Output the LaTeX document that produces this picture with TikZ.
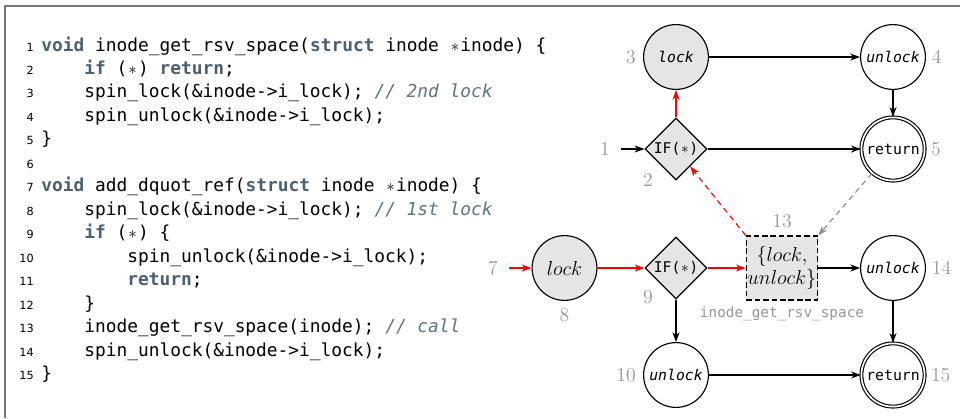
\documentclass[tikz,border=0pt]{standalone}
\usepackage{amsmath}
\usepackage{fontspec}
\usepackage{xcolor}
\usepackage{tikz}
\usetikzlibrary{positioning, shapes.geometric, arrows.meta}

\newfontfamily\codefont{DejaVu Sans Mono}
\newfontfamily\numfont{DejaVu Sans}

\definecolor{kwcol}{RGB}{75,95,110}
\definecolor{cmtcol}{RGB}{95,115,130}
\definecolor{lblgray}{RGB}{150,150,150}
\definecolor{edggray}{RGB}{140,140,140}
\definecolor{framegray}{RGB}{120,120,120}

\newcommand{\kw}[1]{{\bfseries\color{kwcol}#1}}
\newcommand{\cmt}[1]{{\itshape\color{cmtcol}#1}}
\newcommand{\cstar}{\makebox[0.602em]{$\ast$}}
\newcommand{\tab}{\hspace*{2.408em}}

\begin{document}
\begin{tikzpicture}[
          code/.style={anchor=mid west, inner sep=0pt, font=\codefont\fontsize{12.7}{15}\selectfont},
          lnum/.style={anchor=mid east, inner sep=0pt, font=\numfont\fontsize{8}{9}\selectfont},
          state/.style={draw, circle, minimum size=1.62cm, inner sep=0pt, thick, fill=#1,
                        font=\codefont\fontsize{10.5}{12}\selectfont\itshape},
          state/.default=white,
          final/.style={draw, circle, double, double distance=1.2pt, minimum size=1.58cm, inner sep=0pt, thick,
                        fill=white, font=\codefont\fontsize{10.5}{12}\selectfont},
          cond/.style={draw, diamond, aspect=1, minimum size=1.55cm, inner sep=0pt, thick, fill=gray!20,
                       font=\codefont\fontsize{10.5}{12}\selectfont},
          callbox/.style={draw, dashed, dash pattern=on 4pt off 2pt, thick, fill=gray!20, align=center,
                          minimum width=1.72cm, minimum height=1.6cm, inner sep=1pt,
                          font=\fontsize{13.5}{16}\selectfont},
          lbl/.style={inner sep=0pt, text=lblgray, font=\fontsize{14}{16}\selectfont},
          edg/.style={-{Stealth[length=7pt, width=5pt, inset=2.2pt]}, thick},
        ]
        \useasboundingbox (0,0) rectangle (24,10.45);
        % frame rules
        \draw[framegray, line width=1.2pt] (24,10.3) -- (0.125,10.3) -- (0.125,0);

        % source listing
        \foreach \i in {1,...,15}
          \node[lnum] at (0.85, {9.25-0.5868*(\i-1)}) {\i};
        \node[code] (c1)  at (1.025,9.250) {\kw{void} inode\_get\_rsv\_space(\kw{struct} inode \cstar inode) \{};
        \node[code] (c2)  at (1.025,8.663) {\tab\kw{if} (\cstar) \kw{return};};
        \node[code] (c3)  at (1.025,8.076) {\tab spin\_lock(\&inode->i\_lock); \cmt{// 2nd lock}};
        \node[code] (c4)  at (1.025,7.490) {\tab spin\_unlock(\&inode->i\_lock);};
        \node[code] (c5)  at (1.025,6.903) {\}};
        \node[code] (c7)  at (1.025,5.729) {\kw{void} add\_dquot\_ref(\kw{struct} inode \cstar inode) \{};
        \node[code] (c8)  at (1.025,5.142) {\tab spin\_lock(\&inode->i\_lock); \cmt{// 1st lock}};
        \node[code] (c9)  at (1.025,4.556) {\tab\kw{if} (\cstar) \{};
        \node[code] (c10) at (1.025,3.969) {\tab\tab spin\_unlock(\&inode->i\_lock);};
        \node[code] (c11) at (1.025,3.382) {\tab\tab\kw{return};};
        \node[code] (c12) at (1.025,2.795) {\tab\}};
        \node[code] (c13) at (1.025,2.208) {\tab inode\_get\_rsv\_space(inode); \cmt{// call}};
        \node[code] (c14) at (1.025,1.622) {\tab spin\_unlock(\&inode->i\_lock);};
        \node[code] (c15) at (1.025,1.035) {\}};

        % callee graph
        \coordinate (e1) at (15.525,6.725);
        \node[cond]          (n2) at (16.9,6.725)   {IF(\cstar)};
        \node[state=gray!20] (n3) at (16.9,9.025)   {lock};
        \node[state]         (n4) at (22.325,9.025) {unlock};
        \node[final]         (n5) at (22.325,6.725) {return};

        % caller graph
        \coordinate (e7) at (12.725,3.75);
        \node[state=gray!20, font=\fontsize{13.5}{16}\selectfont] (n8) at (14.1125,3.75) {$lock$};
        \node[cond]          (n9)  at (16.9,3.75)   {IF(\cstar)};
        \node[callbox]       (n13) at (19.55,3.75)  {$\{lock,$\\$unlock\}$};
        \node[state]         (n14) at (22.325,3.75) {unlock};
        \node[state]         (n10) at (16.9,1.075)  {unlock};
        \node[final]         (n15) at (22.325,1.075) {return};

        \draw[edg] (e1) -- (n2);
        \draw[edg, red] (n2) -- (n3);
        \draw[edg] (n3) -- (n4);
        \draw[edg] (n4) -- (n5);
        \draw[edg] (n2) -- (n5);
        \draw[edg, red] (e7) -- (n8);
        \draw[edg, red] (n8) -- (n9);
        \draw[edg, red] (n9) -- (n13);
        \draw[edg] (n13) -- (n14);
        \draw[edg] (n14) -- (n15);
        \draw[edg] (n9) -- (n10);
        \draw[edg] (n10) -- (n15);
        % call and return links
        \draw[edg, red, dash pattern=on 4pt off 3pt] (n13.north west) -- (n2);
        \draw[edg, edggray, dash pattern=on 4pt off 3pt] (n5) -- (n13.north east);

        % location numbers
        \node[lbl] at (15.125,6.725) {1};
        \node[lbl] at (16.2,5.95) {2};
        \node[lbl, left=5pt of n3] {3};
        \node[lbl, right=4pt of n4] {4};
        \node[lbl, right=4pt of n5] {5};
        \node[lbl] at (12.325,3.75) {7};
        \node[lbl, below=5pt of n8] {8};
        \node[lbl] at (16.2,3.025) {9};
        \node[lbl, left=5pt of n10] {10};
        \node[lbl, above=5pt of n13] {13};
        \node[lbl, right=4pt of n14] {14};
        \node[lbl, right=4pt of n15] {15};
        \node[inner sep=0pt, text=lblgray, font=\codefont\fontsize{10.2}{11}\selectfont, below=4pt of n13] {inode\_get\_rsv\_space};
        \end{tikzpicture}
\end{document}
